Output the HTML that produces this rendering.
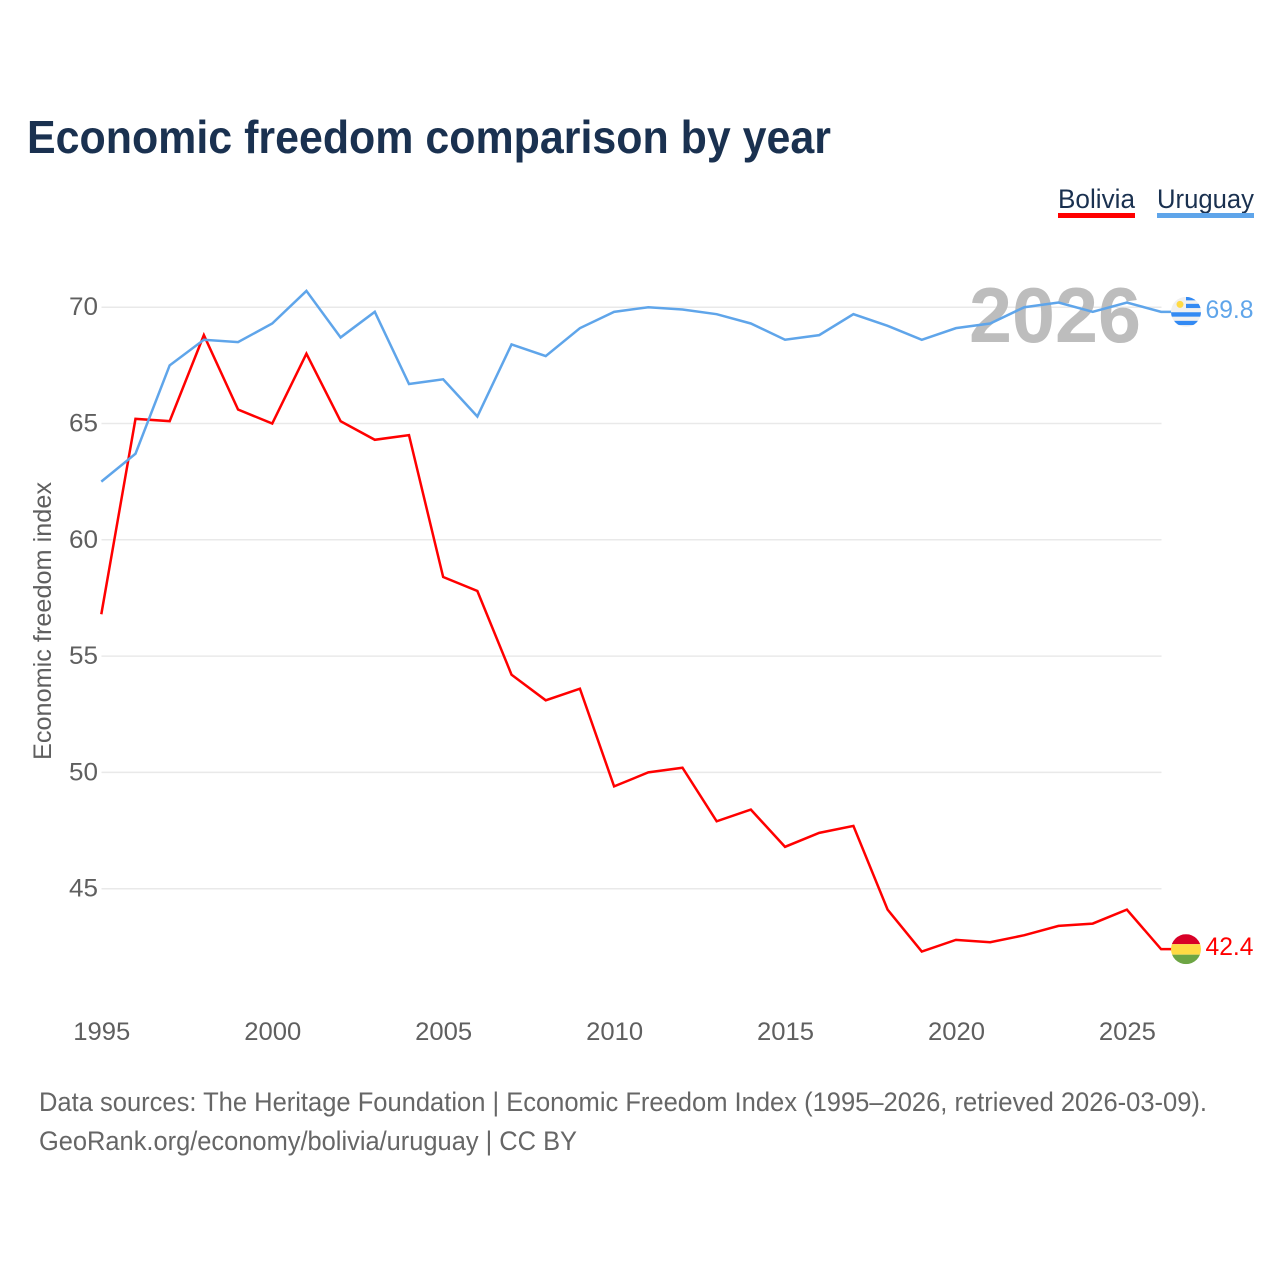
<!DOCTYPE html>
<html lang="en">
<head>
<meta charset="utf-8">
<title>Economic freedom comparison by year</title>
<style>
html,body{margin:0;padding:0;background:#fff;width:1280px;height:1280px;overflow:hidden}
svg{display:block;font-family:"Liberation Sans",sans-serif}
</style>
</head>
<body>
<svg id="chart" width="1280" height="1280" viewBox="0 0 1280 1280" xmlns="http://www.w3.org/2000/svg">
  <rect width="1280" height="1280" fill="#fff"/>
  <text x="27" y="153" font-size="46" font-weight="700" fill="#1a3150" textLength="804" lengthAdjust="spacingAndGlyphs">Economic freedom comparison by year</text>
  <g>
    <g>
      <text x="1058" y="208" font-size="27" fill="#1a3150" textLength="77" lengthAdjust="spacingAndGlyphs">Bolivia</text>
      <rect x="1058" y="213" width="77" height="5" fill="#ff0000"/>
    </g>
    <g>
      <text x="1157" y="208" font-size="27" fill="#1a3150" textLength="97" lengthAdjust="spacingAndGlyphs">Uruguay</text>
      <rect x="1157" y="213" width="97" height="5" fill="#5fa5ea"/>
    </g>
  </g>
  <g id="grid"></g>
  <text x="969" y="342" font-size="78" font-weight="700" fill="#bdbdbd" textLength="172" lengthAdjust="spacingAndGlyphs">2026</text>
  <g id="yticks"></g>
  <g id="xticks"></g>
  <text transform="translate(51,760) rotate(-90)" font-size="25" fill="#5f5f5f" textLength="278" lengthAdjust="spacingAndGlyphs">Economic freedom index</text>
  <g id="series"></g>
  <g id="endmarks"></g>
  <g>
    <text x="39" y="1111" font-size="27" fill="#666" textLength="1168" lengthAdjust="spacingAndGlyphs">Data sources: The Heritage Foundation | Economic Freedom Index (1995–2026, retrieved 2026-03-09).</text>
    <text x="39" y="1150" font-size="27" fill="#666" textLength="538" lengthAdjust="spacingAndGlyphs">GeoRank.org/economy/bolivia/uruguay | CC BY</text>
  </g>
</svg>
<script>
const years = [1995,1996,1997,1998,1999,2000,2001,2002,2003,2004,2005,2006,2007,2008,2009,2010,2011,2012,2013,2014,2015,2016,2017,2018,2019,2020,2021,2022,2023,2024,2025,2026];
const bolivia = [56.8,65.2,65.1,68.8,65.6,65.0,68.0,65.1,64.3,64.5,58.4,57.8,54.2,53.1,53.6,49.4,50.0,50.2,47.9,48.4,46.8,47.4,47.7,44.1,42.3,42.8,42.7,43.0,43.4,43.5,44.1,42.4];
const uruguay = [62.5,63.7,67.5,68.6,68.5,69.3,70.7,68.7,69.8,66.7,66.9,65.3,68.4,67.9,69.1,69.8,70.0,69.9,69.7,69.3,68.6,68.8,69.7,69.2,68.6,69.1,69.3,70.0,70.2,69.8,70.2,69.8];
const yTicks = [45,50,55,60,65,70];
const xTicks = [1995,2000,2005,2010,2015,2020,2025];

const NS = 'http://www.w3.org/2000/svg';
const xScale = y => 101.3 + (y - 1995) * (1126.9 - 101.3) / 30;
const yScale = v => 888.7 - (v - 45) * (888.7 - 307.2) / 25;
const make = (tag, attrs, parent) => {
  const el = document.createElementNS(NS, tag);
  for (const k in attrs) el.setAttribute(k, attrs[k]);
  parent.appendChild(el);
  return el;
};
const grid = document.getElementById('grid');
const yAxis = document.getElementById('yticks');
const xAxis = document.getElementById('xticks');
const series = document.getElementById('series');
const ends = document.getElementById('endmarks');

yTicks.forEach(t => {
  const line = make('line', {x1: 101.5, x2: 1161.5, y1: yScale(t), y2: yScale(t), stroke: '#e9e9e9', 'stroke-width': 1.5}, grid);
  
  
  const label = make('text', {x: 98, y: yScale(t) + 8, 'text-anchor': 'end', 'font-size': 25, fill: '#5f5f5f', textLength: 29, lengthAdjust: 'spacingAndGlyphs'}, yAxis);
  label.textContent = t;
  
  
});
xTicks.forEach(t => {
  const label = make('text', {x: xScale(t) + 0.5, y: 1040, 'text-anchor': 'middle', 'font-size': 25, fill: '#5f5f5f', textLength: 57, lengthAdjust: 'spacingAndGlyphs'}, xAxis);
  label.textContent = t;
  
  
});

const drawLine = (values, color, name) => {
  const pts = values.map((v, i) => xScale(years[i]) + ',' + yScale(v));
  const last = values[values.length - 1];
  pts.push('1172,' + yScale(last));
  const line = make('polyline', {points: pts.join(' '), fill: 'none', stroke: color, 'stroke-width': 2.5, 'stroke-linejoin': 'miter'}, series);
  
  
};
drawLine(bolivia, '#ff0000', 'bolivia');
drawLine(uruguay, '#5fa5ea', 'uruguay');

const addClip = (id, cy) => {
  const defs = make('defs', {}, ends);
  const clip = make('clipPath', {id: id}, defs);
  make('circle', {cx: 1186, cy: cy, r: 15}, clip);
};

// Uruguay end marker
const uY = yScale(uruguay[uruguay.length - 1]);
addClip('clip-uy', uY);
const uyFlag = make('g', {'clip-path': 'url(#clip-uy)'}, ends);


make('rect', {x: 1171, y: uY - 15, width: 30, height: 30, fill: '#f0f0f0'}, uyFlag);
make('rect', {x: 1186, y: uY - 15, width: 15, height: 3.5, fill: '#338af3'}, uyFlag);
make('rect', {x: 1186, y: uY - 8, width: 15, height: 4.2, fill: '#338af3'}, uyFlag);
make('rect', {x: 1171, y: uY + 0.4, width: 30, height: 4.4, fill: '#338af3'}, uyFlag);
make('rect', {x: 1171, y: uY + 9, width: 30, height: 4.2, fill: '#338af3'}, uyFlag);
make('circle', {cx: 1180, cy: uY - 7.5, r: 3.5, fill: '#ffda44'}, uyFlag);
const uyLabel = make('text', {x: 1205.5, y: uY + 6, 'font-size': 25, fill: '#5fa5ea', textLength: 48, lengthAdjust: 'spacingAndGlyphs'}, ends);
uyLabel.textContent = uruguay[uruguay.length - 1].toFixed(1);



// Bolivia end marker
const bY = yScale(bolivia[bolivia.length - 1]);
addClip('clip-bo', bY);
const boFlag = make('g', {'clip-path': 'url(#clip-bo)'}, ends);


make('rect', {x: 1171, y: bY - 15, width: 30, height: 10, fill: '#d80027'}, boFlag);
make('rect', {x: 1171, y: bY - 5, width: 30, height: 10.5, fill: '#ffda44'}, boFlag);
make('rect', {x: 1171, y: bY + 5.5, width: 30, height: 9.5, fill: '#6da544'}, boFlag);
const boLabel = make('text', {x: 1205.5, y: bY + 6, 'font-size': 25, fill: '#ff0000', textLength: 48, lengthAdjust: 'spacingAndGlyphs'}, ends);
boLabel.textContent = bolivia[bolivia.length - 1].toFixed(1);


</script>
</body>
</html>
